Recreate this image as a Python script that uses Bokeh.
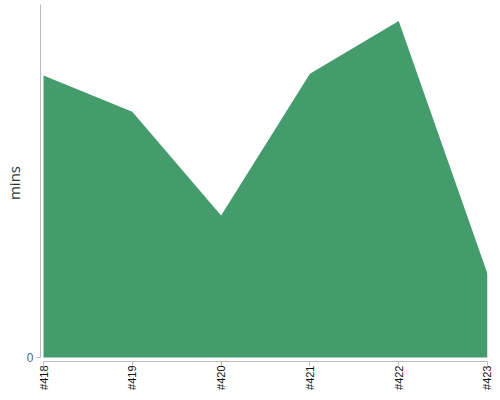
import math
from bokeh.plotting import figure
from bokeh.models import Range1d, FixedTicker, ColumnDataSource
from bokeh.embed import file_html
from bokeh.resources import INLINE

builds = ["#418", "#419", "#420", "#421", "#422", "#423"]
mins = [79.9, 69.6, 40.2, 80.4, 95.3, 23.7]

xs = list(range(len(builds)))
src = ColumnDataSource(dict(x=xs, y=mins, y0=[0] * len(xs)))

p = figure(width=492, height=392, output_backend="svg", toolbar_location=None,
           x_range=Range1d(-0.034, 5.0), y_range=Range1d(-1.14, 100),
           min_border_left=30, min_border_right=5, min_border_top=4, min_border_bottom=10)
p.outline_line_color = None
p.grid.visible = False
p.background_fill_color = "white"

p.varea(x="x", y1="y0", y2="y", source=src, fill_color="#449c6d", fill_alpha=1.0)

xa = p.xaxis[0]
xa.ticker = FixedTicker(ticks=xs)
xa.major_label_overrides = {i: b for i, b in enumerate(builds)}
xa.major_label_orientation = math.pi / 2
xa.bounds = (0, 5)
xa.axis_line_color = "#bbbbbb"
xa.major_tick_line_color = "#bbbbbb"
xa.major_tick_out = 4
xa.major_tick_in = 0
xa.minor_tick_line_color = None
xa.major_label_text_font = "Liberation Sans"
xa.major_label_text_font_size = "11px"
xa.major_label_text_color = "#111111"
xa.major_label_standoff = 0

ya = p.yaxis[0]
ya.ticker = FixedTicker(ticks=[0])
ya.bounds = (0, 100)
ya.axis_line_color = "#bbbbbb"
ya.major_tick_line_color = "#bbbbbb"
ya.major_tick_out = 4
ya.major_tick_in = 0
ya.minor_tick_line_color = None
ya.major_label_text_font = "Liberation Sans"
ya.major_label_text_font_size = "12px"
ya.major_label_text_color = "#666666"
ya.major_label_standoff = 3
ya.axis_label = "mins"
ya.axis_label_text_font = "Open Sans"
ya.axis_label_text_font_size = "15px"
ya.axis_label_text_font_style = "normal"
ya.axis_label_text_color = "#333333"
ya.axis_label_standoff = 0

open("out.html", "w").write(file_html(p, INLINE))
